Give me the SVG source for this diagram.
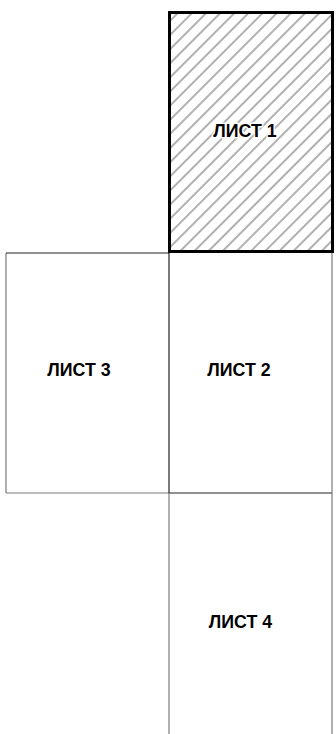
<svg xmlns="http://www.w3.org/2000/svg" width="336" height="734" viewBox="0 0 336 734">
<style>
.lbl{font-family:"Liberation Sans",Arial,sans-serif;font-weight:bold;font-size:17.8px;fill:#000;text-anchor:middle}
.halo{stroke:#fff;stroke-width:3px;paint-order:stroke;stroke-linejoin:round}
.dk{stroke:#222;stroke-width:1.2;fill:none}
.gr{stroke:#7a7a7a;stroke-width:1.2;fill:none}
</style>
<defs>
<pattern id="hatch" patternUnits="userSpaceOnUse" width="10" height="10" patternTransform="rotate(45)">
<line x1="5" y1="-1" x2="5" y2="11" stroke="#7c7c7c" stroke-width="1.2"/>
</pattern>
</defs>
<rect width="336" height="734" fill="#fff"/>
<g id="sheet3">
<line class="gr" x1="6" y1="253" x2="6" y2="493"/>
<line class="dk" x1="6" y1="253" x2="169" y2="253"/>
<line class="gr" x1="6" y1="493" x2="169" y2="493"/>
<text class="lbl" x="79" y="376">ЛИСТ 3</text>
</g>
<g id="sheet2">
<line class="dk" x1="169" y1="253" x2="169" y2="493"/>
<line class="gr" x1="332" y1="253" x2="332" y2="493"/>
<line class="dk" x1="169" y1="493" x2="332" y2="493"/>
<text class="lbl" x="239" y="376">ЛИСТ 2</text>
</g>
<g id="sheet4">
<line class="gr" x1="169" y1="493" x2="169" y2="734"/>
<line class="gr" x1="332" y1="493" x2="332" y2="734"/>
<text class="lbl" x="240.5" y="628">ЛИСТ 4</text>
</g>
<g id="sheet1">
<rect x="169.5" y="12.5" width="163" height="239" fill="url(#hatch)" stroke="#000" stroke-width="3"/>
<text class="lbl halo" x="245" y="137">ЛИСТ 1</text>
</g>
<g id="connectors"/>
</svg>
